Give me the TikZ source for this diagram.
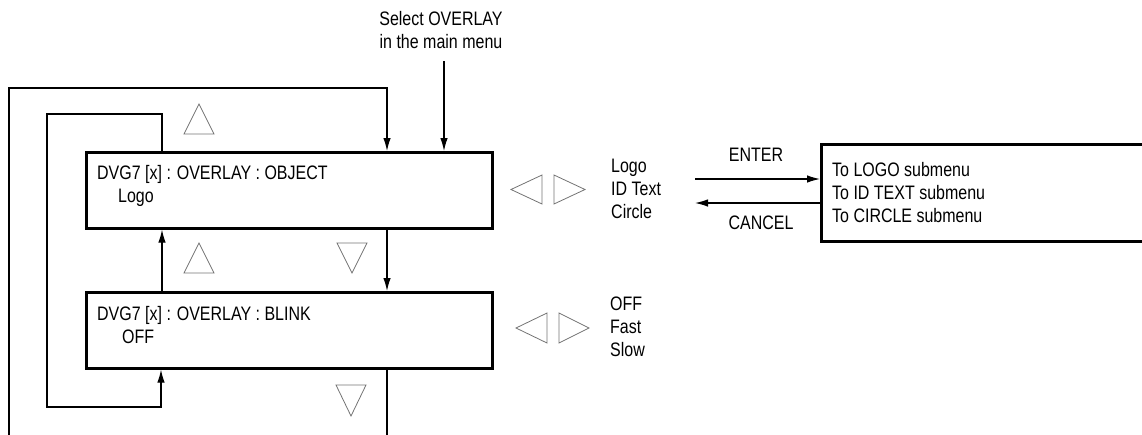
\documentclass[tikz,border=0pt]{standalone}
\usepackage{fontspec}
\setmainfont[FakeStretch=0.82]{Liberation Sans}
\usetikzlibrary{arrows.meta}
\begin{document}
\begin{tikzpicture}[x=1pt,y=-1pt,
  box/.style={draw, line width=2.6pt, inner sep=0, anchor=north west},
  conn/.style={line width=1.2pt},
  arr/.style={conn, -{Latex[length=13pt,width=7.5pt]}},
  sym/.style={draw=black!55, line width=0.8pt, line join=miter},
  txt/.style={inner sep=0, font=\fontsize{19.5}{23}\selectfont, align=left, anchor=base west}]
\useasboundingbox (0,0) rectangle (1142,434);
\clip (0,0) rectangle (1142,434);

% boxes
\node[box, minimum width=406pt, minimum height=76pt] (obj) at (85,151) {};
\node[box, minimum width=406pt, minimum height=76pt] (blink) at (85,291) {};
\node[box, minimum width=340pt, minimum height=97pt] (sub) at (820,143) {};

% texts (anchor = baseline of the last line)
\node[txt] (t1) at (97,202) {DVG7 [x] : OVERLAY : OBJECT\\\hspace*{21pt}Logo};
\node[txt] (t2) at (97,343) {DVG7 [x] : OVERLAY : BLINK\\\hspace*{25pt}OFF};
\node[txt] (t3) at (832,222) {To LOGO submenu\\To ID TEXT submenu\\To CIRCLE submenu};
\node[txt] (v1) at (611,218) {Logo\\ID Text\\Circle};
\node[txt] (v2) at (610,356.5) {OFF\\Fast\\Slow};
\node[txt, align=center, anchor=base] (sel) at (441,48) {Select OVERLAY\\in the main menu};
\node[txt, anchor=base] (enter) at (756,161.5) {ENTER};
\node[txt, anchor=base] (cancel) at (761,229) {CANCEL};

% helper coordinates
\coordinate (xa) at (162,0);
\coordinate (xb) at (387,0);
\coordinate (xs) at (444,0);
\coordinate (selbot) at (444,61);
\coordinate (outerstart) at (9,445);
\coordinate (downend) at (387,445);
\coordinate (ea) at (695,179);
\coordinate (ca) at (695,203);

% connectors
\draw[arr] (outerstart) |- (9,88) -| (obj.north -| xb);
\draw[arr] (obj.north -| xa) |- (47,114) |- (161,407) -- (blink.south -| 161,0);
\draw[arr] (blink.north -| xa) -- (obj.south -| xa);
\draw[arr] (obj.south -| xb) -- (blink.north -| xb);
\draw[conn] (blink.south -| xb) -- (downend);
\draw[arr] (selbot) -- (obj.north -| xs);
\draw[arr] (ea) -- (ea -| sub.west);
\draw[arr] (ca -| sub.west) -- (ca);

% navigation symbols
\draw[sym] (199,104) -- (184,134) -- (214,134) -- cycle;
\draw[sym] (199,243) -- (184,273) -- (214,273) -- cycle;
\draw[sym] (337,243) -- (367,243) -- (352,273) -- cycle;
\draw[sym] (336,385) -- (366,385) -- (351,416) -- cycle;
\draw[sym] (511,189.5) -- (542,175) -- (542,204) -- cycle;
\draw[sym] (585,189.5) -- (554,175) -- (554,204) -- cycle;
\draw[sym] (516,328) -- (547,313) -- (547,343) -- cycle;
\draw[sym] (589,328) -- (559,313) -- (559,343) -- cycle;
\end{tikzpicture}
\end{document}
